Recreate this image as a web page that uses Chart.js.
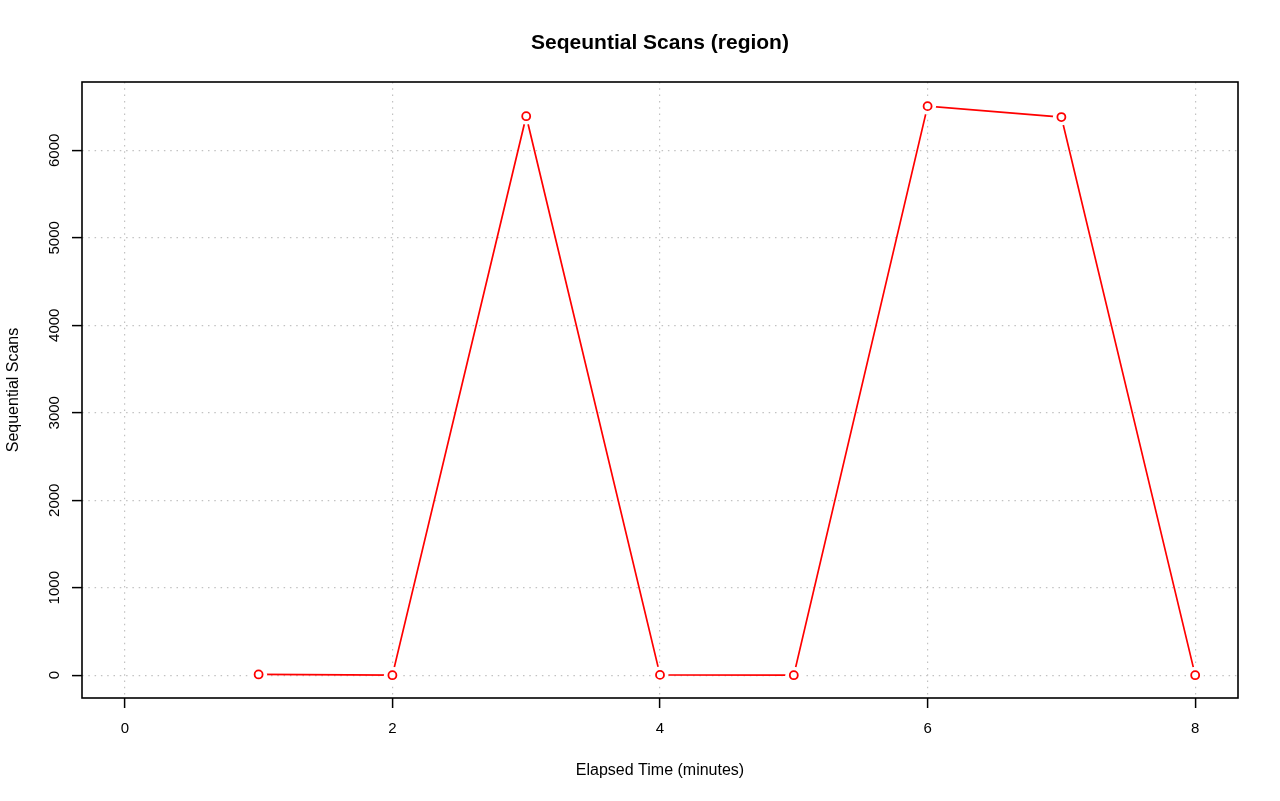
<!DOCTYPE html>
<html>
<head>
<meta charset="utf-8">
<script src="https://cdn.jsdelivr.net/npm/chart.js@4/dist/chart.umd.min.js"></script>
<style>
  html, body { margin: 0; padding: 0; background: #ffffff; }
  #c { display: block; }
</style>
</head>
<body>
<canvas id="c" width="1280" height="801"></canvas>
<script>
// ---- data ----
const minutes = [1, 2, 3, 4, 5, 6, 7, 8];
const seqScans = [8, 0, 6390, 3, 0, 6505, 6380, 0];
const xTicks = [0, 2, 4, 6, 8];
const yTicks = [0, 1000, 2000, 3000, 4000, 5000, 6000];
const titleText = 'Seqeuntial Scans (region)';
const xTitle = 'Elapsed Time (minutes)';
const yTitle = 'Sequential Scans';

const points = minutes.map((m, i) => ({ x: m, y: seqScans[i] }));
const FONT = 'Liberation Sans, Arial, Helvetica, sans-serif';

const boxPlugin = {
  id: 'box',
  afterDraw(chart) {
    const a = chart.chartArea;
    const ctx = chart.ctx;
    ctx.save();
    ctx.strokeStyle = '#000';
    ctx.lineWidth = 1.6;
    ctx.setLineDash([]);
    ctx.strokeRect(a.left, a.top, a.right - a.left, a.bottom - a.top);
    ctx.restore();
  }
};

new Chart(document.getElementById('c'), {
  type: 'scatter',
  data: {
    datasets: [
      {
        data: points, showLine: false, order: 0,
        pointRadius: 4, pointBorderWidth: 1.8,
        pointBorderColor: '#ff0000', pointBackgroundColor: '#ffffff',
        pointHoverRadius: 4
      },
      {
        data: points, showLine: false, order: 1,
        pointRadius: 8.5, pointBorderWidth: 0,
        pointBorderColor: '#ffffff', pointBackgroundColor: '#ffffff',
        pointHoverRadius: 8.5
      },
      {
        data: points, showLine: true, order: 2,
        borderColor: '#ff0000', borderWidth: 1.7, tension: 0,
        pointRadius: 0, pointHoverRadius: 0, fill: false
      }
    ]
  },
  options: {
    responsive: false,
    devicePixelRatio: 1,
    animation: false,
    events: [],
    layout: { padding: { left: 0, right: 42, top: 0, bottom: 0 } },
    plugins: {
      legend: { display: false },
      tooltip: { enabled: false },
      title: {
        display: true, text: titleText, color: '#000', fullSize: false,
        font: { family: FONT, size: 21, weight: 'bold', lineHeight: 1.2 },
        padding: { top: 31, bottom: 25.8 }
      }
    },
    scales: {
      x: {
        type: 'linear', position: 'bottom',
        min: -0.32, max: 8.32,
        afterBuildTicks: s => { s.ticks = xTicks.map(v => ({ value: v })); },
        afterFit: s => { s.height = 103; },
        ticks: {
          color: '#000', padding: 12, maxRotation: 0, autoSkip: false,
          font: { family: FONT, size: 15, lineHeight: 1.2 },
          callback: v => String(v)
        },
        grid: {
          color: '#c2c2c2', lineWidth: 1.2, drawTicks: true,
          tickLength: 10, tickColor: '#000', tickWidth: 1.5, tickBorderDash: []
        },
        border: { display: false, dash: [1.5, 4.8] },
        title: {
          display: true, text: xTitle, color: '#000',
          font: { family: FONT, size: 16, lineHeight: 1.2 },
          padding: { top: 0, bottom: 21 }
        }
      },
      y: {
        type: 'linear', position: 'left',
        min: -261, max: 6781,
        afterBuildTicks: s => { s.ticks = yTicks.map(v => ({ value: v })); },
        afterFit: s => { s.width = 82; },
        ticks: {
          color: '#000', padding: 0, minRotation: 90, maxRotation: 90,
          crossAlign: 'center', autoSkip: false,
          font: { family: FONT, size: 15, lineHeight: 1.2 },
          callback: v => String(v)
        },
        grid: {
          color: '#c2c2c2', lineWidth: 1.2, drawTicks: true,
          tickLength: 10, tickColor: '#000', tickWidth: 1.5, tickBorderDash: []
        },
        border: { display: false, dash: [1.5, 4.8] },
        title: {
          display: true, text: yTitle, color: '#000',
          font: { family: FONT, size: 16, lineHeight: 1.2 },
          padding: { top: 4, bottom: 0 }
        }
      }
    }
  },
  plugins: [boxPlugin]
});
</script>
</body>
</html>
